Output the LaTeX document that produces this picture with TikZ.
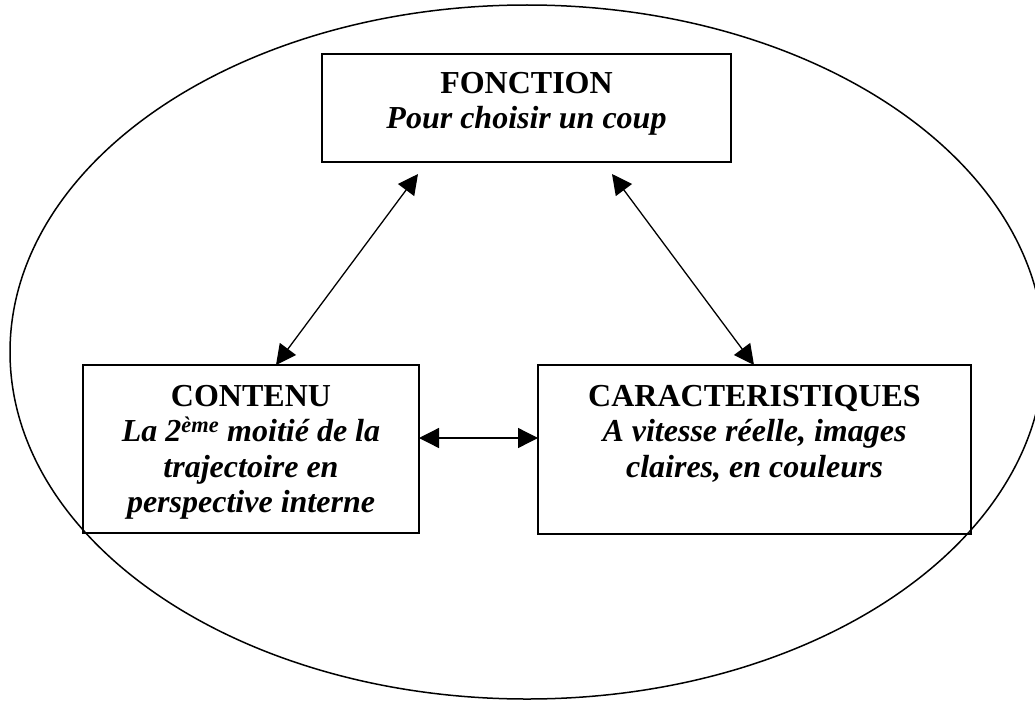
\documentclass[tikz,border=0pt]{standalone}
\usepackage{fontspec}
\setmainfont{Liberation Serif}
\usetikzlibrary{arrows.meta}
\tikzset{
  boxnode/.style={draw, line width=1.6pt, rectangle, inner sep=0pt},
  boxtext/.style={align=center, inner sep=0pt, anchor=base, font=\fontsize{32}{35.5}\selectfont\bfseries},
  link/.style={line width=1.3pt, {Triangle[length=20pt,width=20pt]}-{Triangle[length=20pt,width=20pt]}}
}
\begin{document}
\begin{tikzpicture}[x=1pt,y=-1pt]
\useasboundingbox (0,0) rectangle (1035,701);
\clip (0,0) rectangle (1035,701);
\draw[line width=1.5pt] (527,352) ellipse [x radius=517, y radius=347];
\node[boxnode, minimum width=409pt, minimum height=108pt] (fonction) at (526.5,108) {};
\node[boxnode, minimum width=336pt, minimum height=168pt] (contenu) at (251,449) {};
\node[boxnode, minimum width=433pt, minimum height=169pt] (caract) at (754.5,449.5) {};
\node[boxtext] (tfonction) at (526.5,128.5) {FONCTION\\\itshape Pour choisir un coup};
\node[boxtext] (tcontenu) at (251,512.5) {CONTENU\\\itshape La 2\textsuperscript{ème} moitié de la\\\itshape trajectoire en\\\itshape perspective interne};
\node[boxtext] (tcaract) at (754.5,477) {CARACTERISTIQUES\\\itshape A vitesse réelle, images\\\itshape claires, en couleurs};
\coordinate (fl) at (418,174);
\coordinate (fr) at (612,174);
\coordinate (ct) at (276,365);
\coordinate (kt) at (754,365);
\coordinate (ce) at (419,438);
\coordinate (kw) at (538,438);
\draw[link] (fl) -- (ct);
\draw[link] (fr) -- (kt);
\draw[link] (ce) -- (kw);
\end{tikzpicture}
\end{document}
